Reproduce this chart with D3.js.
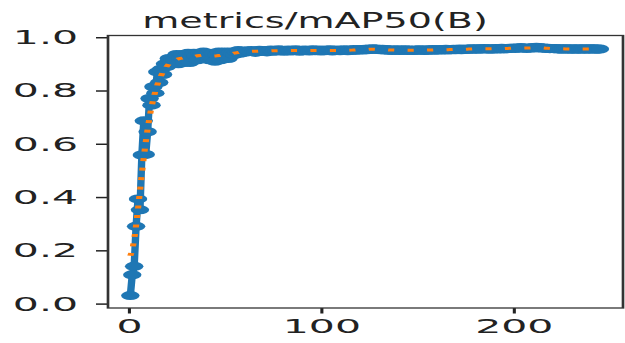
<!DOCTYPE html>
<html>
<head>
<meta charset="utf-8">
<script src="https://cdn.jsdelivr.net/npm/d3@7"></script>
<style>
  html, body { margin: 0; padding: 0; background: #fff; }
  svg { display: block; }
</style>
</head>
<body>
<svg id="chart" width="625" height="343"></svg>
<script>
// Training curve: mAP@0.5 per epoch, raw values plus a gaussian-smoothed trend.
const title = "metrics/mAP50(B)";
const xTicks = [0, 100, 200];
const yTicks = [0.0, 0.2, 0.4, 0.6, 0.8, 1.0];

// warm-up epochs 1-60
const mapWarmup = [
  0.030, 0.108, 0.140, 0.290, 0.393, 0.352, 0.558, 0.686, 0.560, 0.645,
  0.770, 0.745, 0.814, 0.790, 0.870, 0.830, 0.880, 0.860, 0.900, 0.890,
  0.920, 0.905, 0.920, 0.915, 0.935, 0.900, 0.925, 0.935, 0.905, 0.930,
  0.940, 0.905, 0.925, 0.940, 0.930, 0.915, 0.940, 0.935, 0.945, 0.930,
  0.940, 0.915, 0.925, 0.940, 0.910, 0.935, 0.945, 0.915, 0.940, 0.945,
  0.930, 0.920, 0.945, 0.940, 0.935, 0.945, 0.950, 0.940, 0.948, 0.945
];
// epochs 61-150
const mapMiddle = [
  0.944, 0.949, 0.946, 0.950, 0.947, 0.943, 0.949, 0.951, 0.946, 0.948,
  0.950, 0.945, 0.949, 0.952, 0.947, 0.950, 0.948, 0.953, 0.949, 0.951,
  0.947, 0.950, 0.952, 0.948, 0.951, 0.949, 0.953, 0.950, 0.947, 0.951,
  0.949, 0.952, 0.950, 0.948, 0.951, 0.953, 0.949, 0.950, 0.952, 0.948,
  0.951, 0.949, 0.952, 0.950, 0.953, 0.948, 0.951, 0.950, 0.952, 0.949,
  0.950, 0.953, 0.951, 0.949, 0.952, 0.950, 0.954, 0.951, 0.953, 0.952,
  0.954, 0.952, 0.955, 0.953, 0.956, 0.954, 0.957, 0.955, 0.956, 0.954,
  0.953, 0.955, 0.952, 0.954, 0.951, 0.953, 0.950, 0.952, 0.951, 0.953,
  0.950, 0.952, 0.951, 0.953, 0.950, 0.952, 0.951, 0.950, 0.952, 0.951
];
// epochs 151-245
const mapLate = [
  0.953, 0.951, 0.952, 0.950, 0.953, 0.951, 0.952, 0.954, 0.951, 0.953,
  0.952, 0.954, 0.952, 0.953, 0.955, 0.952, 0.954, 0.953, 0.955, 0.953,
  0.954, 0.956, 0.953, 0.955, 0.954, 0.956, 0.955, 0.957, 0.955, 0.956,
  0.957, 0.955, 0.957, 0.956, 0.958, 0.956, 0.957, 0.955, 0.957, 0.956,
  0.958, 0.956, 0.957, 0.959, 0.956, 0.958, 0.957, 0.959, 0.958, 0.960,
  0.958, 0.960, 0.959, 0.961, 0.959, 0.960, 0.958, 0.960, 0.959, 0.961,
  0.960, 0.962, 0.960, 0.961, 0.959, 0.960, 0.958, 0.959, 0.957, 0.958,
  0.957, 0.958, 0.956, 0.957, 0.955, 0.957, 0.956, 0.957, 0.955, 0.956,
  0.957, 0.955, 0.956, 0.957, 0.955, 0.956, 0.957, 0.956, 0.955, 0.957,
  0.956, 0.957, 0.955, 0.956, 0.956
];

const map50 = mapWarmup.concat(mapMiddle, mapLate);
const series = map50.map((v, i) => ({ epoch: i + 1, value: v }));

// 1-D gaussian filter (sigma 3, reflected edges) for the trend line
function gaussianSmooth(values, sigma) {
  const radius = Math.floor(4 * sigma + 0.5);
  const kernel = d3.range(-radius, radius + 1).map(d => Math.exp(-0.5 * (d / sigma) ** 2));
  const ksum = d3.sum(kernel);
  const n = values.length;
  const at = i => {
    while (i < 0 || i >= n) i = i < 0 ? -i - 1 : 2 * n - i - 1;
    return values[i];
  };
  return values.map((_, i) => {
    let s = 0;
    for (let k = -radius; k <= radius; k++) s += kernel[k + radius] * at(i + k);
    return s / ksum;
  });
}
const smooth = gaussianSmooth(map50, 3).map((v, i) => ({ epoch: i + 1, value: v }));

// The figure is drawn in a narrow frame and stretched horizontally.
const SX = 2.05;
const plot = { left: 108, right: 623, top: 35.5, bottom: 308 };

const svg = d3.select("#chart");
const root = svg.append("g").attr("transform", `scale(${SX},1)`);

const x = d3.scaleLinear().domain([-10.6, 257]).range([plot.left / SX, plot.right / SX]);
const y = d3.scaleLinear().domain([-0.0165, 1.0065]).range([plot.bottom, plot.top]);

// data
const line = d3.line().x(d => x(d.epoch)).y(d => y(d.value));

root.append("path")
  .datum(series)
  .attr("d", line)
  .attr("fill", "none")
  .attr("stroke", "#1f77b4")
  .attr("stroke-width", 3.6)
  .attr("stroke-linejoin", "round");

root.append("g")
  .selectAll("circle")
  .data(series)
  .join("circle")
  .attr("cx", d => x(d.epoch))
  .attr("cy", d => y(d.value))
  .attr("r", 4.5)
  .attr("fill", "#1f77b4");

root.append("path")
  .datum(smooth)
  .attr("d", line)
  .attr("fill", "none")
  .attr("stroke", "#ff7f0e")
  .attr("stroke-width", 3)
  .attr("stroke-dasharray", "3 6.5");

// axes
const font = "'DejaVu Sans', sans-serif";

const yAxis = root.append("g")
  .attr("transform", `translate(${plot.left / SX},0)`)
  .call(d3.axisLeft(y).tickValues(yTicks).tickFormat(d3.format(".1f"))
    .tickSize(12 / SX).tickPadding(18 / SX));
const xAxis = root.append("g")
  .attr("transform", `translate(0,${plot.bottom})`)
  .call(d3.axisBottom(x).tickValues(xTicks).tickFormat(d3.format("d"))
    .tickSize(5.5).tickPadding(5));

[yAxis, xAxis].forEach(a => {
  a.select(".domain").remove();
  a.selectAll(".tick line").attr("stroke", "#222").attr("stroke-width", 1.5);
  a.selectAll(".tick text")
    .attr("fill", "#222")
    .style("font-family", font)
    .style("font-size", "20px");
});

// frame
root.append("rect")
  .attr("x", plot.left / SX)
  .attr("y", plot.top)
  .attr("width", (plot.right - plot.left) / SX)
  .attr("height", plot.bottom - plot.top)
  .attr("fill", "none")
  .attr("stroke", "#333")
  .attr("stroke-width", 1.3);

// title, with its own horizontal stretch
const TSX = 1.73;
svg.append("text")
  .attr("transform", `translate(315,28) scale(${TSX},1)`)
  .attr("text-anchor", "middle")
  .attr("fill", "#222")
  .style("font-family", font)
  .style("font-size", "22px")
  .text(title);
</script>
</body>
</html>
